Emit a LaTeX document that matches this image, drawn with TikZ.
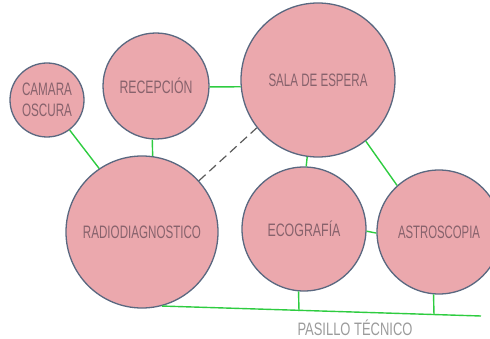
\documentclass[tikz,border=0pt]{standalone}
\usepackage{fontspec}
\setmainfont{Liberation Sans}
\usepackage{graphicx}
\definecolor{roomc}{RGB}{235,168,173}
\definecolor{bordc}{RGB}{90,104,128}
\definecolor{linkc}{RGB}{46,204,64}
\definecolor{textc}{RGB}{135,98,108}
\definecolor{dashc}{RGB}{90,90,90}
\definecolor{pasc}{RGB}{155,155,155}
\newcommand{\lab}[2]{\resizebox{#1}{\height}{#2}}
\begin{document}
\begin{tikzpicture}[x=1pt,y=-1pt,
  room/.style={circle,draw=bordc,fill=roomc,line width=1.3pt,inner sep=0pt,
    text=textc,font=\fontsize{18}{21}\selectfont,align=center},
  link/.style={draw=linkc,line width=1.4pt},
  dlink/.style={draw=dashc,line width=1.2pt,dash pattern=on 9pt off 5pt}]
\useasboundingbox (0,0) rectangle (490,339);
\node[room,minimum size=74pt]  (cam)   at (47,100)  {\lab{50pt}{CAMARA}\\\lab{50pt}{OSCURA}};
\node[room,minimum size=106pt] (rec)   at (156,86)  {\lab{73pt}{RECEPCIÓN}};
\node[room,minimum size=154pt] (sala)  at (318,80)  {\lab{99pt}{SALA DE ESPERA}};
\node[room,minimum size=152pt] (rad)   at (142,232) {\lab{118pt}{RADIODIAGNOSTICO}};
\node[room,minimum size=124pt] (eco)   at (304,229) {\lab{73pt}{ECOGRAFÍA}};
\node[room,minimum size=124pt] (astro) at (439,232) {\lab{82pt}{ASTROSCOPIA}};
\coordinate (p2) at (481,316);
\coordinate (d1) at (299,311);
\coordinate (d2) at (434,315);
\draw[link] (cam.-53) -- (rad.124);
\draw[link] (rec.266) -- (rad.82);
\draw[link] (rec.-1) -- (sala.185);
\draw[dlink] (rad.42) -- (sala.218);
\draw[link] (sala.262) -- (eco.88);
\draw[link] (sala.-52) -- (astro.132);
\draw[link] (eco.-2) -- (astro.181);
\draw[link] (rad.-75) -- (p2);
\draw[link] (eco.-95) -- (d1);
\draw[link] (astro.-95) -- (d2);
\node[text=pasc,font=\fontsize{18}{21}\selectfont] (pas) at (355,328) {\lab{115pt}{PASILLO TÉCNICO}};
\end{tikzpicture}
\end{document}
